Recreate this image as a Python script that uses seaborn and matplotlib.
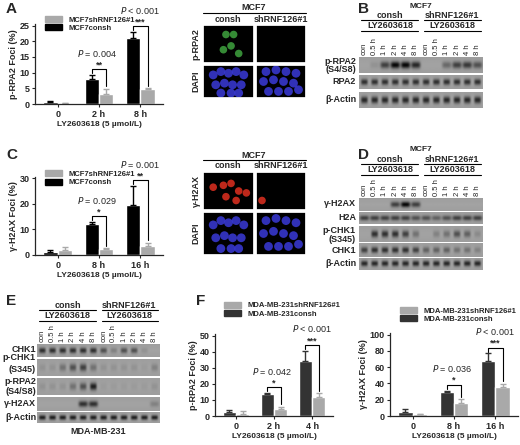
import matplotlib
matplotlib.use("Agg")
import matplotlib.pyplot as plt
import numpy as np
import pandas as pd
import seaborn as sns
from matplotlib.lines import Line2D

sns.set_theme(style="ticks")
plt.rcParams['font.family'] = ['Liberation Sans', 'DejaVu Sans']

# --- bar chart data ---
times_a = ['0', '2 h', '8 h']
a_consh = [0.5, 8.0, 21.0]
a_consh_err = [0.3, 1.3, 2.0]
a_sh = [0.2, 3.2, 4.9]
a_sh_err = [0.1, 1.7, 0.2]

times_c = ['0', '8 h', '16 h']
c_consh = [1.0, 12.0, 19.5]
c_consh_err = [0.8, 1.0, 7.5]
c_sh = [2.0, 2.2, 3.5]
c_sh_err = [1.3, 0.5, 1.3]

times_f1 = ['0', '2 h', '4 h']
f1_consh = [2.5, 13.5, 34.0]
f1_consh_err = [1.2, 0.8, 6.5]
f1_sh = [1.5, 4.2, 11.8]
f1_sh_err = [1.4, 1.5, 2.3]

times_f2 = ['0', '8 h', '16 h']
f2_consh = [5.0, 30.0, 67.0]
f2_consh_err = [3.0, 1.0, 10.0]
f2_sh = [2.0, 15.5, 36.0]
f2_sh_err = [1.0, 5.0, 3.5]

# --- blot band intensities (12 lanes: consh con..8h, shRNF126#1 con..8h) ---
lanes = ['con', '0.5 h', '1 h', '2 h', '4 h', '8 h'] * 2
b_prpa2 = [0, 0.1, 0.6, 0.95, 0.95, 0.75, 0, 0, 0.35, 0.6, 0.65, 0.5]
b_rpa2 = [0.7] * 12
b_actin = [0.75] * 12
d_h2ax = [0, 0, 0, 0.6, 0.95, 0.6, 0, 0, 0, 0, 0, 0]
d_h2a = [0.6, 0.6, 0.6, 0.6, 0.6, 0.5, 0.5, 0.4, 0.5, 0.6, 0.6, 0.6]
d_pchk1 = [0, 0.7, 0.7, 0.7, 0.6, 0.3, 0, 0.2, 0.3, 0.5, 0.4, 0.15]
d_chk1 = [0.6, 0.7, 0.7, 0.7, 0.7, 0.6, 0.4, 0.4, 0.4, 0.3, 0.3, 0.2]
d_actin = [0.75] * 12
e_chk1 = [0.7] * 6 + [0.5, 0.2, 0.5, 0.5, 0.1, 0.0]
e_pchk1 = [0.1, 0.1, 0.3, 0.5, 0.6, 0.3, 0.1, 0.1, 0.1, 0.1, 0.05, 0.2]
e_prpa2 = [0.1, 0.1, 0.1, 0.3, 0.5, 0.8, 0.05, 0.05, 0.05, 0.05, 0.05, 0.1]
e_h2ax = [0, 0, 0, 0, 0.7, 0.7, 0, 0, 0, 0, 0, 0.2]
e_actin = [0.8] * 12

# --- microscopy nuclei (fractional positions in tile) ---
nuc_green = [(0.45, 0.75), (0.6, 0.75), (0.4, 0.35), (0.55, 0.45), (0.7, 0.25)]
nuc_dapi1 = [(0.2, 0.7), (0.35, 0.8), (0.5, 0.75), (0.65, 0.8), (0.8, 0.7), (0.25, 0.4),
             (0.42, 0.45), (0.58, 0.4), (0.75, 0.4), (0.35, 0.15), (0.55, 0.15), (0.7, 0.15)]
nuc_dapi2 = [(0.2, 0.8), (0.4, 0.85), (0.6, 0.8), (0.8, 0.75), (0.15, 0.5), (0.35, 0.55),
             (0.55, 0.5), (0.75, 0.45), (0.25, 0.2), (0.45, 0.2), (0.65, 0.2), (0.85, 0.25)]
nuc_red = [(0.2, 0.6), (0.4, 0.65), (0.55, 0.7), (0.7, 0.5), (0.85, 0.45), (0.45, 0.35), (0.65, 0.25)]
nuc_red2 = [(0.12, 0.25)]

W, H = 520, 445
fig = plt.figure(figsize=(W / 100, H / 100), dpi=100)


def px_axes(x0, y0, x1, y1):
    return fig.add_axes([x0 / W, 1 - y1 / H, (x1 - x0) / W, (y1 - y0) / H])


def ftext(x, y, s, **kw):
    kw.setdefault('fontsize', 6.5)
    kw.setdefault('fontweight', 'bold')
    kw.setdefault('ha', 'center')
    kw.setdefault('va', 'center')
    fig.text(x / W, 1 - y / H, s, **kw)


def fline(x0, x1, y):
    fig.add_artist(Line2D([x0 / W, x1 / W], [1 - y / H, 1 - y / H], color='black', lw=0.8))


def bar_panel(box, times, consh, consh_err, sh, sh_err, ymax, yticks, ylabel,
              pvals, stars, c_dark, leg_names, leg_y):
    ax = px_axes(*box)
    df = pd.DataFrame({'time': times * 2, 'value': consh + sh,
                       'group': ['consh'] * 3 + ['sh'] * 3})
    sns.barplot(data=df, x='time', y='value', hue='group', hue_order=['consh', 'sh'],
                palette=[c_dark, '#a9a9a9'], errorbar=None, width=0.7, ax=ax, legend=False)
    xs = np.arange(3)
    off = 0.175
    ax.errorbar(xs - off, consh, yerr=[np.zeros(3), consh_err], fmt='none', ecolor=c_dark,
                capsize=2.5, elinewidth=1)
    ax.errorbar(xs + off, sh, yerr=[np.zeros(3), sh_err], fmt='none', ecolor='#a9a9a9',
                capsize=2.5, elinewidth=1)
    for i, (pv, st) in enumerate(zip(pvals, stars), start=1):
        top1 = consh[i] + consh_err[i]
        top2 = sh[i] + sh_err[i]
        hb = top1 + ymax * 0.07
        ax.plot([xs[i] - off, xs[i] - off, xs[i] + off, xs[i] + off],
                [top1 + ymax * 0.02, hb, hb, top2 + ymax * 0.03], color='black', lw=0.8,
                clip_on=False)
        ax.text(xs[i], hb, st, ha='center', va='bottom', fontsize=6.5, fontweight='bold')
        ax.text(xs[i] - 0.05 * (2 - i), hb + ymax * 0.13, r'$P$' + ' ' + pv, ha='center',
                va='bottom', fontsize=6.5, clip_on=False)
    ax.set_ylim(0, ymax)
    ax.set_yticks(yticks)
    ax.set_xlim(-0.55, 2.55)
    ax.set_xlabel('LY2603618 (5 µmol/L)', fontsize=6, fontweight='bold', labelpad=2)
    ax.set_ylabel(ylabel, fontsize=6.5, fontweight='bold', labelpad=1)
    ax.tick_params(labelsize=6.5, length=2.5, width=0.8, pad=1.5)
    for lab in ax.get_xticklabels() + ax.get_yticklabels():
        lab.set_fontweight('bold')
    sns.despine(ax=ax)
    for sp in ['left', 'bottom']:
        ax.spines[sp].set_linewidth(0.9)
    handles = [plt.Rectangle((0, 0), 1, 1, color='#a9a9a9'), plt.Rectangle((0, 0), 1, 1, color=c_dark)]
    ax.legend(handles, leg_names, loc='lower left', bbox_to_anchor=(0.08, leg_y), frameon=False,
              prop={'weight': 'bold', 'size': 5.5}, handlelength=2.2,
              handleheight=0.8, labelspacing=0.1, borderpad=0, borderaxespad=0)
    return ax


bar_panel((35, 24, 163, 104), times_a, a_consh, a_consh_err, a_sh, a_sh_err, 25.5,
          [0, 5, 10, 15, 20, 25], 'p-RPA2 Foci (%)', ['= 0.004', '< 0.001'],
          ['**', '***'], 'black', ['MCF7shRNF126#1', 'MCF7consh'], 0.9)
bar_panel((35, 177, 163, 255), times_c, c_consh, c_consh_err, c_sh, c_sh_err, 30.5,
          [0, 10, 20, 30], 'γ-H2AX Foci (%)', ['= 0.029', '= 0.001'],
          ['*', '**'], 'black', ['MCF7shRNF126#1', 'MCF7consh'], 0.88)
bar_panel((215, 334, 333, 416), times_f1, f1_consh, f1_consh_err, f1_sh, f1_sh_err, 51,
          [0, 10, 20, 30, 40, 50], 'p-RPA2 Foci (%)', ['= 0.042', '< 0.001'],
          ['*', '***'], '#333333', ['MDA-MB-231shRNF126#1', 'MDA-MB-231consh'], 1.2)
bar_panel((390, 333, 518, 416), times_f2, f2_consh, f2_consh_err, f2_sh, f2_sh_err, 102,
          [0, 20, 40, 60, 80, 100], 'γ-H2AX Foci (%)', ['= 0.036', '< 0.001'],
          ['*', '***'], '#333333', ['MDA-MB-231shRNF126#1', 'MDA-MB-231consh'], 1.12)


# --- western blots ---
def blot(x0, x1, y0, y1, vals, wide=False):
    ax = px_axes(x0, y0, x1, y1)
    nx, ny = 240, 30
    xx, yy = np.meshgrid(np.linspace(0, 12, nx), np.linspace(0, 1, ny))
    img = np.full((ny, nx), 0.6)
    img += 0.04 * (1 - np.abs(yy - 0.5))
    for i, v in enumerate(vals):
        sx = 0.45 if wide else 0.33
        img -= 0.65 * v * np.exp(-((xx - (i + 0.5)) / sx) ** 4 - ((yy - 0.5) / 0.22) ** 2)
    ax.imshow(np.clip(img, 0, 1), cmap='gray', vmin=0, vmax=1, aspect='auto',
              extent=(0, 12, 0, 1))
    ax.set_xticks([])
    ax.set_yticks([])
    for sp in ax.spines.values():
        sp.set_visible(False)


def blot_header(x0, x1, y_top, lane_y, cell=None):
    mid = (x0 + x1) / 2
    lw = (x1 - x0) / 12
    if cell:
        ftext(mid, y_top - 1, cell, fontsize=6)
        y_top += 8
    ftext(x0 + 3 * lw, y_top, 'consh', fontsize=6.5)
    ftext(x0 + 9 * lw, y_top, 'shRNF126#1', fontsize=6.5)
    fline(x0 + 2, x0 + 6 * lw - 3, y_top + 5)
    fline(x0 + 6 * lw + 3, x1 - 2, y_top + 5)
    ftext(x0 + 3 * lw, y_top + 11, 'LY2603618', fontsize=6.5)
    ftext(x0 + 9 * lw, y_top + 11, 'LY2603618', fontsize=6.5)
    fline(x0 + 2, x0 + 6 * lw - 3, y_top + 16)
    fline(x0 + 6 * lw + 3, x1 - 2, y_top + 16)
    for i, ln in enumerate(lanes):
        ftext(x0 + (i + 0.5) * lw, lane_y, ln, rotation=90, va='bottom', fontsize=5.5,
              fontweight='normal')


# B
bx0, bx1 = 359, 483
blot_header(bx0, bx1, 7, 55, 'MCF7')
blot(bx0, bx1, 57, 73, b_prpa2, wide=True)
blot(bx0, bx1, 75, 89, b_rpa2)
blot(bx0, bx1, 92, 108, b_actin)
ftext(356, 61, 'p-RPA2', ha='right', fontsize=6.5)
ftext(356, 69, '(S4/S8)', ha='right', fontsize=6.5)
ftext(356, 82, 'RPA2', ha='right', fontsize=6.5)
ftext(356, 100, 'β-Actin', ha='right', fontsize=6.5)

# D
blot_header(bx0, bx1, 151, 196, 'MCF7')
blot(bx0, bx1, 198, 211, d_h2ax, wide=True)
blot(bx0, bx1, 212, 224, d_h2a, wide=True)
blot(bx0, bx1, 226, 242, d_pchk1)
blot(bx0, bx1, 243, 257, d_chk1)
blot(bx0, bx1, 258, 270, d_actin)
ftext(356, 204, 'γ-H2AX', ha='right', fontsize=6.5)
ftext(356, 218, 'H2A', ha='right', fontsize=6.5)
ftext(356, 230, 'p-CHK1', ha='right', fontsize=6.5)
ftext(356, 239, '(S345)', ha='right', fontsize=6.5)
ftext(356, 250, 'CHK1', ha='right', fontsize=6.5)
ftext(356, 264, 'β-Actin', ha='right', fontsize=6.5)

# E
ex0, ex1 = 37, 160
blot_header(ex0, ex1, 305, 342)
blot(ex0, ex1, 344, 357, e_chk1)
blot(ex0, ex1, 359, 376, e_pchk1)
blot(ex0, ex1, 378, 395, e_prpa2)
blot(ex0, ex1, 397, 411, e_h2ax, wide=True)
blot(ex0, ex1, 412, 423, e_actin)
ftext(36, 349, 'CHK1', ha='right', fontsize=6.5)
ftext(36, 358, 'p-CHK1', ha='right', fontsize=6.5)
ftext(36, 369, '(S345)', ha='right', fontsize=6.5)
ftext(36, 382, 'p-RPA2', ha='right', fontsize=6.5)
ftext(36, 391, '(S4/S8)', ha='right', fontsize=6.5)
ftext(36, 404, 'γ-H2AX', ha='right', fontsize=6.5)
ftext(36, 418, 'β-Actin', ha='right', fontsize=6.5)
ftext(98, 431, 'MDA-MB-231', fontsize=6.5)


# --- microscopy tiles ---
def tile(x0, y0, x1, y1, nuclei, color, size):
    ax = px_axes(x0, y0, x1, y1)
    ax.set_facecolor('black')
    if nuclei:
        xs, ys = zip(*nuclei)
        ax.scatter(xs, ys, s=size, color=color, edgecolors='none', alpha=0.85)
    ax.set_xlim(0, 1)
    ax.set_ylim(0, 1)
    ax.set_xticks([])
    ax.set_yticks([])
    for sp in ax.spines.values():
        sp.set_color('white')


def micro(y_head, r1, r2, top_nuc, top_col, top_label, sh_nuc):
    ftext(254, y_head, 'MCF7', fontsize=6.5)
    fline(203, 306, y_head + 5)
    ftext(228, y_head + 11, 'consh', fontsize=6.5)
    ftext(281, y_head + 11, 'shRNF126#1', fontsize=6.5)
    tile(203, r1[0], 254, r1[1], top_nuc, top_col, 30)
    tile(256, r1[0], 306, r1[1], sh_nuc, top_col, 30)
    tile(203, r2[0], 254, r2[1], nuc_dapi1, '#3a3ad8', 40)
    tile(256, r2[0], 306, r2[1], nuc_dapi2, '#3a3ad8', 40)
    ftext(196, (r1[0] + r1[1]) / 2, top_label, rotation=90, fontsize=6.5)
    ftext(196, (r2[0] + r2[1]) / 2, 'DAPI', rotation=90, fontsize=6.5)


micro(8, (25, 63), (65, 98), nuc_green, '#3fa33f', 'p-RPA2', [])
micro(155, (172, 210), (212, 255), nuc_red, '#e03020', 'γ-H2AX', nuc_red2)

# panel letters
for lt, x, y in [('A', 6, 9), ('B', 358, 9), ('C', 6, 155), ('D', 358, 155),
                 ('E', 6, 301), ('F', 196, 301)]:
    ftext(x, y, lt, fontsize=11, ha='left')

fig.savefig('out.png', dpi=100)
